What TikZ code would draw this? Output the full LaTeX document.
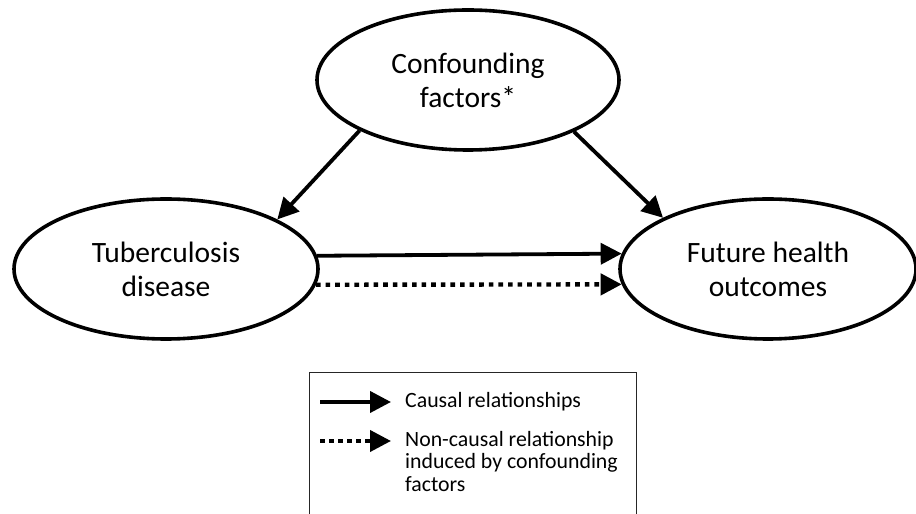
\documentclass[tikz,border=0pt]{standalone}
\usepackage{fontspec}
\setmainfont{Carlito}
\usetikzlibrary{shapes.geometric,arrows.meta}
\begin{document}
\begin{tikzpicture}[x=1pt,y=1pt,
  bubble/.style={ellipse,draw,line width=3.6pt,inner sep=0pt,minimum height=140pt,
     align=center,font=\fontsize{29.5pt}{34pt}\selectfont},
  arr/.style={line width=3.8pt,-{Triangle[length=21pt,width=21pt]}},
  dotarr/.style={arr,line width=4.4pt,dash pattern=on 4.6pt off 5pt},
  legtext/.style={font=\fontsize{21.8pt}{22.5pt}\selectfont,align=left,inner sep=0pt}]
\useasboundingbox (0,0) rectangle (916,514);
\clip (0,0) rectangle (916,514);
\node[bubble,minimum width=302pt] (conf) at (468,434) {Confounding\\factors*};
\node[bubble,minimum width=304pt] (tb) at (166,245) {Tuberculosis\\disease};
\node[bubble,minimum width=296pt] (out) at (768,245) {Future health\\outcomes};
\draw[arr] (conf.205.7) -- (tb.24.6);
\draw[arr] (conf.334.5) -- (out.154.5);
\draw[arr] (tb.5.6) -- (out.174.2);
\draw[dotarr] (tb.-6.17) -- (out.186.34);
% legend
\node[draw=black!85,line width=1.3pt,minimum width=327pt,minimum height=160pt,anchor=north west,inner sep=0pt] (leg) at (309,142) {};
\coordinate (s1) at (320,112);
\coordinate (e1) at (391,112);
\coordinate (s2) at (320,73);
\coordinate (e2) at (391,73);
\draw[arr,line width=4pt] (s1) -- (e1);
\draw[dotarr,line width=4pt,dash pattern=on 4.5pt off 4.5pt] (s2) -- (e2);
\node[legtext,anchor=base west] (t1) at (405,106) {Causal relationships};
\node[legtext,anchor=north west] (t2) at (405,83) {Non-causal relationship\\induced by confounding\\factors};
\end{tikzpicture}
\end{document}
